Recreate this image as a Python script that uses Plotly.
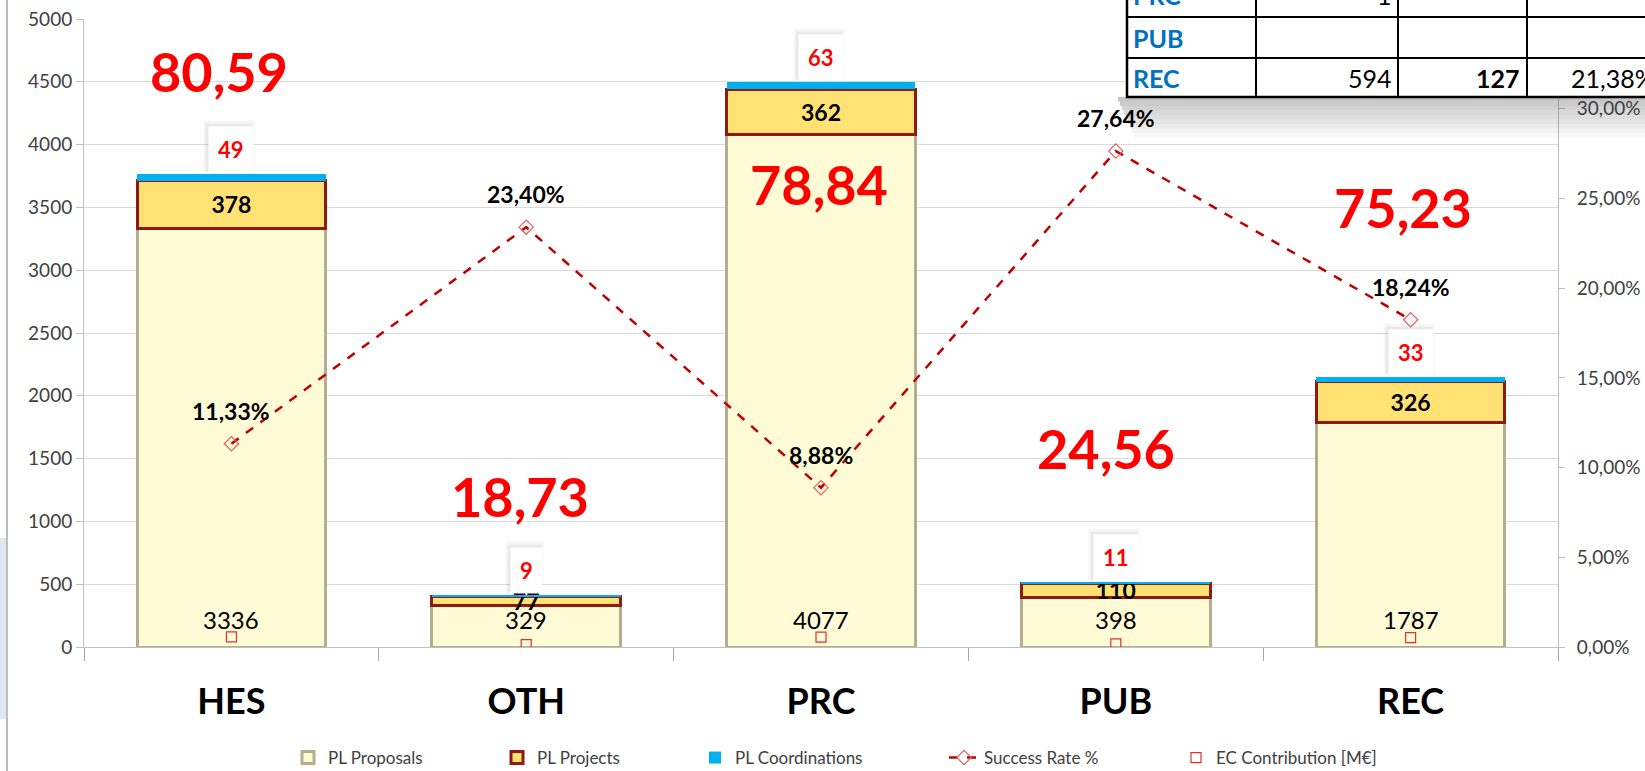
import plotly.graph_objects as go

# --- data ---
categories = ["HES", "OTH", "PRC", "PUB", "REC"]
pl_proposals = [3336, 329, 4077, 398, 1787]
pl_projects = [378, 77, 362, 110, 326]
pl_coordinations = [49, 9, 63, 11, 33]
success_rate = [0.1133, 0.2340, 0.0888, 0.2764, 0.1824]
ec_contribution = [80.59, 18.73, 78.84, 24.56, 75.23]

# table overlay (top right, partly cut off)
table_labels = ["PRC", "PUB", "REC"]
table_col1 = ["1", "", "594"]
table_col2 = ["", "", "127"]
table_col3 = ["", "", "21,38%"]

# hand placed positions of the big EC labels (left axis units / px shift)
ec_label_y = [4580, 1200, 3680, 1580, 3500]
ec_label_xshift = [-12, -6, -2, -10, -8]

FONT = "Lato"
W, H = 1645, 771
L, R, T, B = 84, 87, 19, 124


def px_x(px):
    return (px - L) / (W - L - R)


def px_y(py):
    return (H - B - py) / (H - T - B)


fig = go.Figure()

fig.add_trace(go.Bar(
    x=categories, y=pl_proposals, name="PL Proposals", legend="legend",
    marker=dict(color="#FFFBD6", line=dict(color="#B5AD8F", width=3)),
    textposition="none",
))
fig.add_trace(go.Bar(
    x=categories, y=pl_projects, name="PL Projects", legend="legend2",
    marker=dict(color="#FFE273", line=dict(color="#8E1A12", width=3)),
    text=pl_projects, textposition="inside", insidetextanchor="middle",
    constraintext="none", textangle=0,
    textfont=dict(family=FONT, size=23, color="black", weight="bold"),
))
fig.add_trace(go.Bar(
    x=categories, y=pl_coordinations, name="PL Coordinations", legend="legend3",
    marker=dict(color="#00B0F0", line=dict(width=0)),
    textposition="none",
))
fig.add_trace(go.Scatter(
    x=categories, y=success_rate, name="Success Rate %", yaxis="y2", legend="legend4",
    mode="lines+markers",
    line=dict(color="#C00000", width=2.5, dash="dash"),
    marker=dict(symbol="diamond-open", size=11, color="#E06060", line=dict(width=1.2)),
))
fig.add_trace(go.Scatter(
    x=categories, y=ec_contribution, name="EC Contribution [M€]", legend="legend5",
    mode="markers",
    marker=dict(symbol="square-open", size=10, color="#E03030", line=dict(width=1.2)),
))

# proposal counts near the foot of each bar
for cat, val in zip(categories, pl_proposals):
    fig.add_annotation(x=cat, y=0, yanchor="bottom", yshift=11, showarrow=False,
                       text=str(val), font=dict(family=FONT, size=24, color="black"))

# success rate labels above the line points
for cat, val in zip(categories, success_rate):
    fig.add_annotation(x=cat, y=val, yref="y2", yanchor="bottom", yshift=17,
                       showarrow=False, text=f"{val * 100:.2f}%".replace(".", ","),
                       font=dict(family=FONT, size=23, color="black", weight="bold"))

# coordination labels in white boxes with soft shadow
totals = [a + b + c for a, b, c in zip(pl_proposals, pl_projects, pl_coordinations)]
for cat, tot, val in zip(categories, totals, pl_coordinations):
    for pad, xs, ys, bg in ((12, -2, 4, "rgba(0,0,0,0.035)"),
                            (10, -2, 3, "rgba(0,0,0,0.05)"),
                            (9, 0, 1, "white")):
        fig.add_annotation(
            x=cat, y=tot, yanchor="bottom", showarrow=False,
            text=str(val), borderpad=pad, xshift=xs, yshift=ys - (pad - 9),
            bgcolor=bg,
            font=dict(family=FONT, size=22, weight="bold",
                      color="#FF0000" if bg == "white" else "rgba(0,0,0,0)"),
        )

# large EC contribution labels
for cat, val, ly, xs in zip(categories, ec_contribution, ec_label_y, ec_label_xshift):
    fig.add_annotation(
        x=cat, y=ly, showarrow=False, xshift=xs,
        text=f"{val:.2f}".replace(".", ","),
        font=dict(family=FONT, size=54, color="#FF0000", weight="bold"),
    )

shapes = []
# chart frame on the far left
shapes.append(dict(type="rect", xref="paper", yref="paper",
                   x0=px_x(0), x1=px_x(6), y0=px_y(719), y1=px_y(538),
                   fillcolor="#DDE7F1", line=dict(width=0), layer="above"))
shapes.append(dict(type="line", xref="paper", yref="paper",
                   x0=px_x(7), x1=px_x(7), y0=px_y(0), y1=px_y(H),
                   line=dict(color="#A6A6A6", width=1.5)))

# shadow under the table
for i in range(9):
    a = 0.30 * (1 - i / 9)
    shapes.append(dict(type="rect", xref="paper", yref="paper",
                       x0=px_x(1118 + i * 2), x1=px_x(W + 5),
                       y0=px_y(97 + (i + 1) * 4.5), y1=px_y(97 + i * 4.5),
                       fillcolor=f"rgba(60,60,60,{a:.3f})", line=dict(width=0),
                       layer="above"))

# table body
shapes.append(dict(type="rect", xref="paper", yref="paper",
                   x0=px_x(1127), x1=px_x(W + 20), y0=px_y(97), y1=px_y(-60),
                   fillcolor="white", line=dict(color="black", width=2.5),
                   layer="above"))
for xv in (1256, 1398, 1527):
    shapes.append(dict(type="line", xref="paper", yref="paper",
                       x0=px_x(xv), x1=px_x(xv), y0=px_y(97), y1=px_y(-60),
                       line=dict(color="black", width=2), layer="above"))
for yv in (17, 58):
    shapes.append(dict(type="line", xref="paper", yref="paper",
                       x0=px_x(1127), x1=px_x(W + 20), y0=px_y(yv), y1=px_y(yv),
                       line=dict(color="black", width=2), layer="above"))

row_centers = [-5, 38, 78]
for lab, c1, c2, c3, yc in zip(table_labels, table_col1, table_col2, table_col3, row_centers):
    fig.add_annotation(xref="paper", yref="paper", x=px_x(1131), y=px_y(yc),
                       xanchor="left", yanchor="middle", showarrow=False, text=lab,
                       font=dict(family=FONT, size=25, color="#0070C0", weight="bold"))
    for txt, xr, bold in ((c1, 1394, False), (c2, 1522, True), (c3, 1657, False)):
        if txt:
            fig.add_annotation(xref="paper", yref="paper", x=px_x(xr), y=px_y(yc),
                               xanchor="right", yanchor="middle", showarrow=False,
                               text=txt,
                               font=dict(family=FONT, size=25, color="black",
                                         weight="bold" if bold else "normal"))

# one legend per entry so the entries can sit where the original has them
legend_text_x = [330, 539, 737, 986, 1218]
legend_style = dict(orientation="h", yanchor="middle", y=px_y(758), xanchor="left",
                    font=dict(family=FONT, size=17, color="#404040"),
                    bgcolor="rgba(0,0,0,0)")
legends = {}
for i, tx in enumerate(legend_text_x):
    key = "legend" if i == 0 else f"legend{i + 1}"
    legends[key] = dict(legend_style, x=px_x(tx - 42))

fig.update_layout(
    width=W, height=H,
    margin=dict(l=L, r=R, t=T, b=B, autoexpand=False),
    showlegend=True,
    barmode="stack", bargap=0.36,
    plot_bgcolor="white", paper_bgcolor="white",
    separators=",.",
    font=dict(family=FONT, color="#404040"),
    shapes=shapes,
    xaxis=dict(
        tickfont=dict(family=FONT, size=36, color="black", weight="bold"),
        ticks="outside", tickson="boundaries", ticklen=13, tickcolor="#A6A6A6",
        showline=True, linecolor="#BFBFBF", ticklabelstandoff=23,
    ),
    yaxis=dict(
        range=[0, 5000], dtick=500, gridcolor="#D9D9D9", zeroline=False,
        showline=True, linecolor="#BFBFBF", ticks="outside", ticklen=7,
        tickcolor="#BFBFBF", tickfont=dict(family=FONT, size=19, color="#404040"),
    ),
    yaxis2=dict(
        overlaying="y", side="right", range=[0, 0.35], dtick=0.05,
        tickformat=".2%", showgrid=False, zeroline=False,
        showline=True, linecolor="#BFBFBF", ticks="outside", ticklen=6,
        tickcolor="#BFBFBF", ticklabelstandoff=8,
        tickfont=dict(family=FONT, size=19, color="#404040"),
    ),
    **legends,
)

fig.write_html("out.html", config={"displayModeBar": False},
               post_script="document.body.style.margin='0';")
